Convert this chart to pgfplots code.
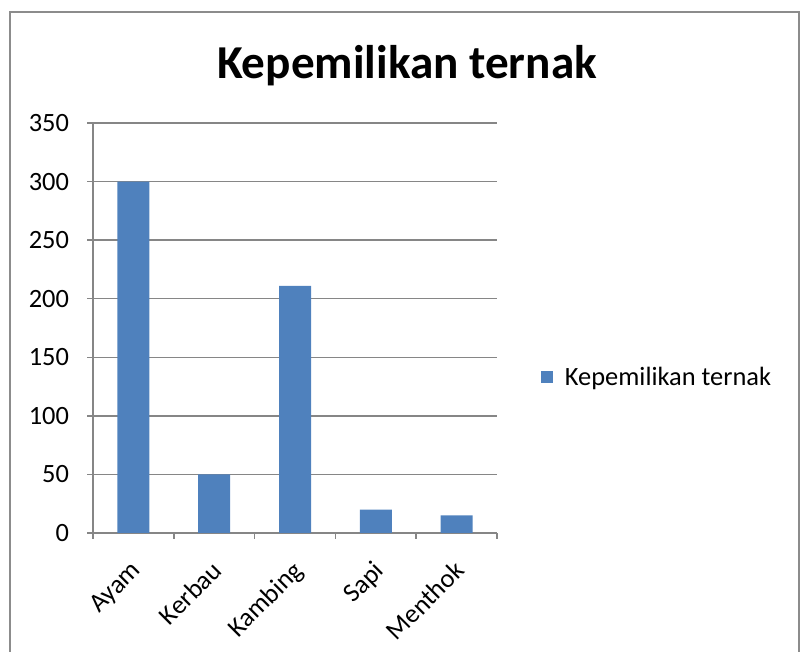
\documentclass[border=0pt]{standalone}
\usepackage{pgfplots}
\pgfplotsset{compat=1.18}
\usepackage{fontspec}
\setmainfont{Carlito}
\definecolor{barblue}{HTML}{4F81BD}
\definecolor{axgray}{HTML}{868686}
\definecolor{framegray}{HTML}{8C8C8C}
\begin{document}
\begin{tikzpicture}
\useasboundingbox (0pt,0pt) rectangle (601.5pt,489pt);
\draw[framegray, line width=1.2pt] (7.5pt,-5pt) -- (7.5pt,480pt) -- (599.25pt,480pt) -- (599.25pt,-5pt);
\node[font=\fontsize{35.4}{42}\selectfont\bfseries] at (305.25pt,440pt) {Kepemilikan ternak};
\begin{axis}[
  at={(69.75pt,89.25pt)}, anchor=south west,
  scale only axis, width=303pt, height=307.5pt,
  ymin=0, ymax=350, ytick={0,50,...,350},
  xmin=-0.5, xmax=4.5,
  xtick={-0.5,0.5,...,4.5}, xticklabels={},
  extra x ticks={0,1,2,3,4},
  extra x tick labels={Ayam,Kerbau,Kambing,Sapi,Menthok},
  extra x tick style={major tick length=0pt, grid=none,
    tick label style={rotate=45, anchor=north east, xshift=-12.35pt, yshift=-8.6pt}},
  axis x line*=bottom, axis y line*=left,
  axis line style={axgray, line width=1.1pt, -},
  tick style={axgray, line width=1.1pt},
  tick align=outside, major tick length=4.5pt,
  ymajorgrids, grid style={axgray, line width=1.1pt},
  /pgf/number format/assume math mode=true,
  tick label style={font=\fontsize{19.8}{24}\selectfont, black},
  yticklabel style={xshift=-10pt},
  legend style={at={(1.109,0.38)}, anchor=west, draw=none, fill=none,
    font=\fontsize{19.8}{24}\selectfont, inner sep=0pt},
  legend cell align=left,
  legend image code/.code={\fill[barblue] (0pt,-4.5pt) rectangle (9pt,4.5pt); \path (15.75pt,0pt);},
]
\addplot[ybar, bar width=24pt, fill=barblue, draw=none] coordinates {
  (0,300) (1,50) (2,211) (3,20) (4,15)
};
\addlegendentry{Kepemilikan ternak}
\end{axis}
\end{tikzpicture}
\end{document}
